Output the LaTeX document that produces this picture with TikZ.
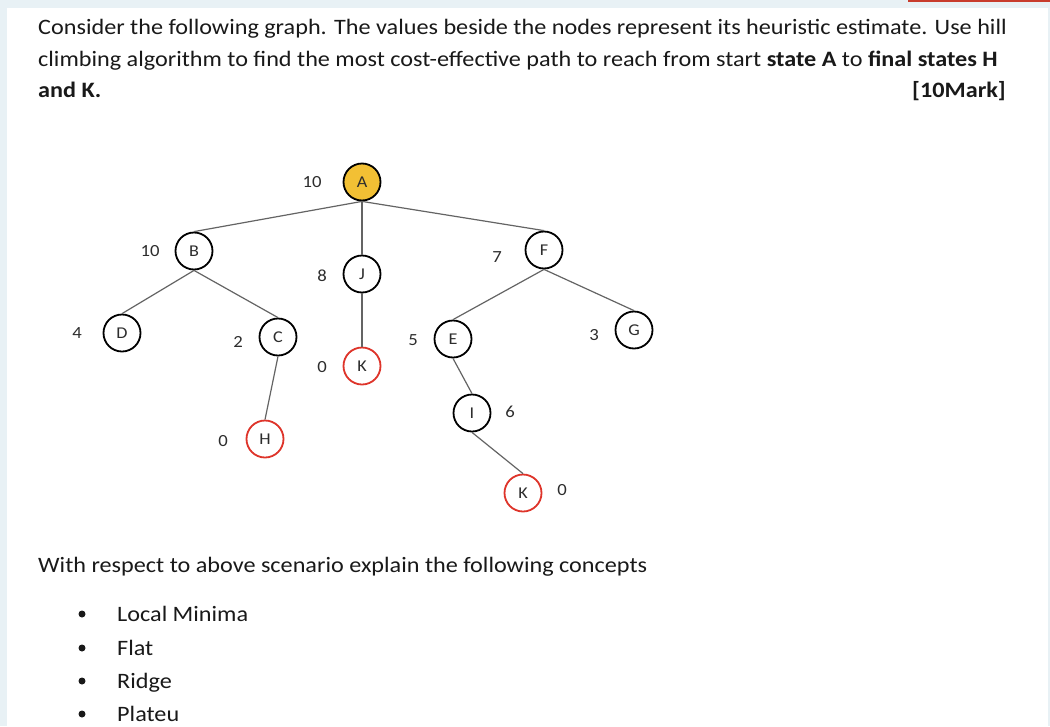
\documentclass[tikz,border=0pt]{standalone}
\usepackage{fontspec}
\setmainfont{Carlito}[FakeStretch=1.1]
\definecolor{bgblue}{RGB}{232,241,245}
\definecolor{gold}{RGB}{242,192,52}
\definecolor{nodered}{RGB}{222,52,42}
\definecolor{edgegray}{RGB}{100,100,100}
\definecolor{txt}{RGB}{25,25,25}
\definecolor{lbl}{RGB}{45,45,45}
\definecolor{topred}{RGB}{200,60,45}
\tikzset{
  st/.style={circle,draw=black,line width=1.8pt,minimum size=37pt,inner sep=0pt,
    font=\fontsize{16.5}{16.5}\selectfont,text=lbl},
  goal/.style={st,draw=nodered},
  start/.style={st,fill=gold},
  hv/.style={font=\fontsize{17}{17}\selectfont,text=lbl,inner sep=0pt},
  para/.style={anchor=base west,inner sep=0pt,text=txt,font=\fontsize{22}{22}\selectfont},
  edge/.style={draw=edgegray,line width=1.2pt}
}
\begin{document}
\begin{tikzpicture}[x=1pt,y=-1pt]
\useasboundingbox (0,0) rectangle (1050,726);
\fill[bgblue] (0,0) rectangle (1050,726);
\fill[white] (7,8) rectangle (1048,726);
\fill[topred] (908,0) rectangle (1050,1.5);
% text
\node[para] (t1) at (38,34) {Consider the following graph. The values beside the nodes represent its heuristic estimate. Use hill};
\node[para] (t2) at (38,66) {climbing algorithm to find the most cost-effective path to reach from start \textbf{state A} to \textbf{final states H}};
\node[para] (t3) at (38,97) {\textbf{and K.}};
\node[para,anchor=base east] (t4) at (1006,97) {\textbf{[10Mark]}};
% graph nodes
\node[start] (A) at (362,182) {A};
\node[st] (B) at (194,251) {B};
\node[st] (J) at (362,274) {J};
\node[st] (F) at (544,250) {F};
\node[st] (D) at (122,333) {D};
\node[st] (C) at (278,337) {C};
\node[goal] (K1) at (362,366) {K};
\node[st] (E) at (453,339) {E};
\node[st] (G) at (634,330) {G};
\node[st] (I) at (472,413) {I};
\node[goal] (H) at (265,439) {H};
\node[goal] (K2) at (523,493) {K};
% heuristic values
\node[hv] (hA) at (312,182) {10};
\node[hv] (hB) at (150,251) {10};
\node[hv] (hJ) at (322,276) {8};
\node[hv] (hF) at (497,257) {7};
\node[hv] (hD) at (77,333) {4};
\node[hv] (hC) at (238,342) {2};
\node[hv] (hK1) at (322,367) {0};
\node[hv] (hE) at (413,340) {5};
\node[hv] (hG) at (594,335) {3};
\node[hv] (hI) at (510,412) {6};
\node[hv] (hH) at (223,441) {0};
\node[hv] (hK2) at (562,490) {0};
% edges
\draw[edge] (A.south) -- (B.north);
\draw[edge] (A.south) -- (J.north);
\draw[edge] (A.south) -- (F.north);
\draw[edge] (B.south) -- (D.north);
\draw[edge] (B.south) -- (C.north);
\draw[edge] (C.south) -- (H.north);
\draw[edge] (J.south) -- (K1.north);
\draw[edge] (F.south) -- (E.north);
\draw[edge] (F.south) -- (G.north);
\draw[edge] (E.south) -- (I.north);
\draw[edge] (I.south) -- (K2.north);
% lower text
\node[para] (w) at (38,572) {With respect to above scenario explain the following concepts};
\fill[txt] (82,614) circle (3.5);
\fill[txt] (82,648) circle (3.5);
\fill[txt] (82,681) circle (3.5);
\fill[txt] (82,714) circle (3.5);
\node[para] (b1) at (117,621) {Local Minima};
\node[para] (b2) at (117,655) {Flat};
\node[para] (b3) at (117,688) {Ridge};
\node[para] (b4) at (117,721) {Plateu};
\end{tikzpicture}
\end{document}
